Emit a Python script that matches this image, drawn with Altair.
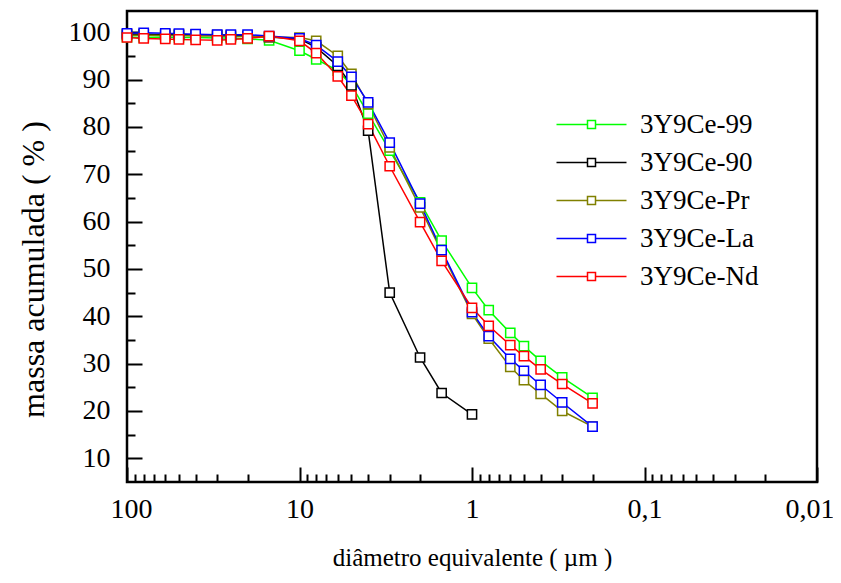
import altair as alt
import pandas as pd

sizes = [100, 80, 60, 50, 40, 30, 25, 20, 15, 10, 8, 6, 5, 4, 3, 2, 1.5, 1,
         0.8, 0.6, 0.5, 0.4, 0.3, 0.2]

ce99 = [99.0, 98.9, 99.0, 98.9, 98.9, 98.8, 98.8, 98.6, 98.3, 96.1, 94.3, 91.9,
        88.8, 82.8, 75.0, 64.1, 56.0, 46.0, 41.3, 36.5, 33.7, 30.6, 27.1, 22.8]
ce90 = [99.6, 99.6, 99.5, 99.5, 99.5, 99.4, 99.3, 99.2, 99.0, 98.6, 96.8, 92.9,
        88.8, 79.2, 45.0, 31.3, 23.8, 19.3]
cepr = [99.4, 99.4, 99.3, 99.3, 99.2, 99.2, 99.1, 99.1, 99.0, 98.9, 98.2, 95.0,
        91.2, 84.8, 75.7, 63.0, 53.6, 40.5, 35.3, 29.3, 26.5, 23.6, 20.0, 16.7]
cela = [99.8, 99.9, 99.8, 99.7, 99.6, 99.5, 99.5, 99.5, 99.2, 98.7, 97.3, 93.8,
        90.6, 85.2, 76.7, 63.8, 54.0, 40.9, 35.8, 31.0, 28.5, 25.5, 21.8, 16.7]
cend = [98.9, 98.7, 98.6, 98.5, 98.4, 98.3, 98.5, 98.7, 99.2, 98.2, 95.6, 90.7,
        86.6, 80.6, 71.7, 59.9, 51.7, 41.8, 38.0, 33.9, 31.6, 28.8, 25.7, 21.6]

series_names = ["3Y9Ce-99", "3Y9Ce-90", "3Y9Ce-Pr", "3Y9Ce-La", "3Y9Ce-Nd"]
series_vals = [ce99, ce90, cepr, cela, cend]
series_colors = ["#00ff00", "#000000", "#808000", "#0000ff", "#ff0000"]

x_tick_labels = [100, 10, 1, 0.1, 0.01]
x_minor = [round(m * 10 ** e, 6) for e in (-2, -1, 0, 1) for m in range(1, 10)] + [100]
y_tick_labels = [10, 20, 30, 40, 50, 60, 70, 80, 90, 100]
y_minor = [10, 15, 20, 25, 30, 35, 40, 45, 50, 55, 60, 65, 70, 75, 80, 85, 90, 95, 100]

rows = []
for name, vals in zip(series_names, series_vals):
    for d, v in zip(sizes, vals):
        rows.append({"serie": name, "d": d, "v": v})
df = pd.DataFrame(rows)

W, H = 690, 471
FONT = "Times New Roman"

xscale = alt.Scale(type="log", domain=[0.01, 100], reverse=True, nice=False)
yscale = alt.Scale(domain=[5, 104.5], nice=False, zero=False)
cscale = alt.Scale(domain=series_names, range=series_colors)

legend = alt.Legend(
    orient="none", legendX=421, legendY=100, title=None,
    symbolType="M-8.75,0H-1M1,0H8.75M-1,-1H1V1H-1Z",
    symbolSize=64, symbolStrokeWidth=1.5, symbolOffset=30,
    symbolFillColor="white",
    labelFont=FONT, labelFontSize=27, labelColor="black", labelOffset=35,
    rowPadding=10, padding=0,
)

x_lab_axis = alt.Axis(
    orient="bottom", values=x_tick_labels, ticks=False, domain=False, grid=False,
    labelExpr="replace(toString(datum.value), '.', ',')",
    labelFont=FONT, labelFontSize=28, labelColor="black", labelPadding=13,
    labelFlush=True, labelFlushOffset=17, labelOverlap=False,
    title="diâmetro equivalente ( µm )", titleFont=FONT, titleFontSize=25,
    titleFontWeight="normal", titleColor="black", titlePadding=22,
)
y_lab_axis = alt.Axis(
    orient="left", values=y_tick_labels, ticks=False, domain=False, grid=False,
    labelFont=FONT, labelFontSize=28, labelColor="black", labelPadding=17,
    labelOverlap=False, labelFlush=False,
    title="massa acumulada ( % )", titleFont=FONT, titleFontSize=32,
    titleFontWeight="normal", titleColor="black", titlePadding=18, titleY=258,
)
x_tick_axis = alt.Axis(
    orient="top", offset=-H, values=x_minor, labels=False, domain=False, grid=False,
    tickColor="black", tickWidth=2,
    tickSize={"condition": {"test": "abs(log(datum.value)/LN10 - round(log(datum.value)/LN10)) < 0.000001", "value": 15}, "value": 8},
    title=None,
)
y_tick_axis = alt.Axis(
    orient="right", offset=-W, values=y_minor, labels=False, domain=False, grid=False,
    tickColor="black", tickWidth=2,
    tickSize={"condition": {"test": "datum.value % 10 == 0", "value": 15}, "value": 8},
    title=None,
)

base = alt.Chart(df)

lines = base.mark_line(strokeWidth=1.5).encode(
    x=alt.X("d:Q", scale=xscale, axis=x_lab_axis),
    y=alt.Y("v:Q", scale=yscale, axis=y_lab_axis),
    color=alt.Color("serie:N", scale=cscale, sort=series_names, legend=legend),
    detail="serie:N",
)

points = base.mark_point(shape="square", filled=False, fill="white", size=85,
                         strokeWidth=1.5, opacity=1).encode(
    x=alt.X("d:Q", scale=xscale, axis=None),
    y=alt.Y("v:Q", scale=yscale, axis=None),
    color=alt.Color("serie:N", scale=cscale, sort=series_names, legend=legend),
)

ticks = base.mark_point(opacity=0).encode(
    x=alt.X("d:Q", scale=xscale, axis=x_tick_axis),
    y=alt.Y("v:Q", scale=yscale, axis=y_tick_axis),
)

chart = alt.layer(lines, points, ticks).resolve_axis(
    x="independent", y="independent"
).properties(
    width=W, height=H,
    background="white",
    autosize=alt.AutoSizeParams(type="none"),
    padding={"left": 119, "top": 3, "right": 16, "bottom": 89},
).configure_view(
    stroke="black", strokeWidth=2.5
)

chart.save("out.html", embed_options={"renderer": "svg", "actions": False})
